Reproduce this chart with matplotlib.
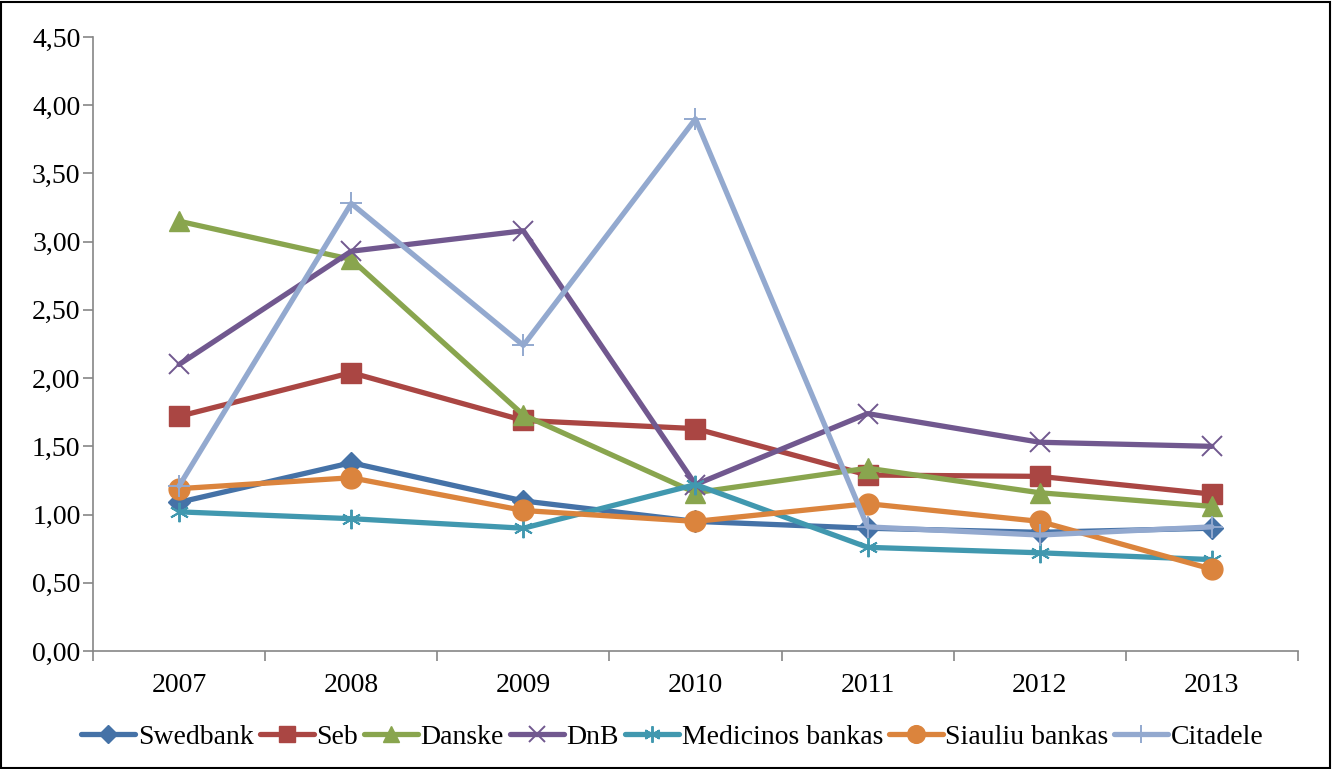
import numpy as np
import matplotlib.pyplot as plt
from matplotlib.patches import Rectangle
from matplotlib.ticker import FixedLocator, FuncFormatter

years = ['2007', '2008', '2009', '2010', '2011', '2012', '2013']

swedbank = [1.09, 1.38, 1.10, 0.95, 0.90, 0.87, 0.90]
seb = [1.72, 2.04, 1.69, 1.63, 1.29, 1.28, 1.15]
danske = [3.15, 2.87, 1.73, 1.16, 1.34, 1.16, 1.06]
dnb = [2.10, 2.93, 3.08, 1.22, 1.74, 1.53, 1.50]
medicinos = [1.02, 0.97, 0.90, 1.22, 0.76, 0.72, 0.67]
siauliu = [1.19, 1.27, 1.03, 0.95, 1.08, 0.95, 0.60]
citadele = [1.21, 3.28, 2.24, 3.90, 0.91, 0.85, 0.91]

series = [
    ('Swedbank', swedbank, '#4572A7', 'D', 11),
    ('Seb', seb, '#AA4643', 's', 14),
    ('Danske', danske, '#89A54E', '^', 14),
    ('DnB', dnb, '#71588F', 'x', 14),
    ('Medicinos bankas', medicinos, '#4198AF', '*', 14),
    ('Siauliu bankas', siauliu, '#DB843D', 'o', 15),
    ('Citadele', citadele, '#93A9CF', '+', 16),
]

plt.rcParams['font.family'] = ['Liberation Serif', 'DejaVu Serif']

fig = plt.figure(figsize=(13.33, 7.69), dpi=100)
ax = fig.add_axes([0.0698, 0.1534, 0.9039, 0.7985])

x = np.arange(len(years))
for name, vals, color, mk, ms in series:
    if mk == '*':
        # six-spoke asterisk
        ax.plot(x, vals, color=color, lw=3.8, label=name,
                marker=(6, 2, 0), ms=ms, mew=1.4, solid_capstyle='round')
    elif mk in ('x', '+'):
        ax.plot(x, vals, color=color, lw=3.8, label=name,
                marker=mk, ms=ms, mew=1.4, solid_capstyle='round')
    else:
        ax.plot(x, vals, color=color, lw=3.8, label=name,
                marker=mk, ms=ms, mec=color, solid_capstyle='round')

ax.set_xlim(-0.5, len(years) - 0.5)
ax.set_ylim(0, 4.5)
ax.yaxis.set_major_locator(FixedLocator(np.arange(0, 4.51, 0.5)))
ax.yaxis.set_major_formatter(FuncFormatter(lambda v, p: f'{v:.2f}'.replace('.', ',')))

ax.xaxis.set_major_locator(FixedLocator(np.arange(-0.5, len(years), 1.0)))
ax.xaxis.set_major_formatter(FuncFormatter(lambda v, p: ''))
ax.xaxis.set_minor_locator(FixedLocator(x))
ax.set_xticklabels(years, minor=True)
ax.tick_params(axis='x', which='minor', length=0, pad=16, labelsize=20)
ax.tick_params(axis='x', which='major', length=7, color='#868686', width=1.2)
ax.tick_params(axis='y', length=7, color='#868686', width=1.2, labelsize=20, pad=2)

for side in ('top', 'right'):
    ax.spines[side].set_visible(False)
for side in ('left', 'bottom'):
    ax.spines[side].set_color('#868686')
    ax.spines[side].set_linewidth(1.2)

ax.legend(loc='center', bbox_to_anchor=(0.481, -0.14), ncol=7, frameon=False,
          fontsize=20, handlelength=1.95, handletextpad=0.1, columnspacing=0.2,
          borderaxespad=0, markerscale=0.85)

fig.patches.append(Rectangle((0.001, 0.001), 0.997, 0.997, transform=fig.transFigure,
                             fill=False, edgecolor='black', lw=1.5))

fig.savefig('out.png', dpi=100)
